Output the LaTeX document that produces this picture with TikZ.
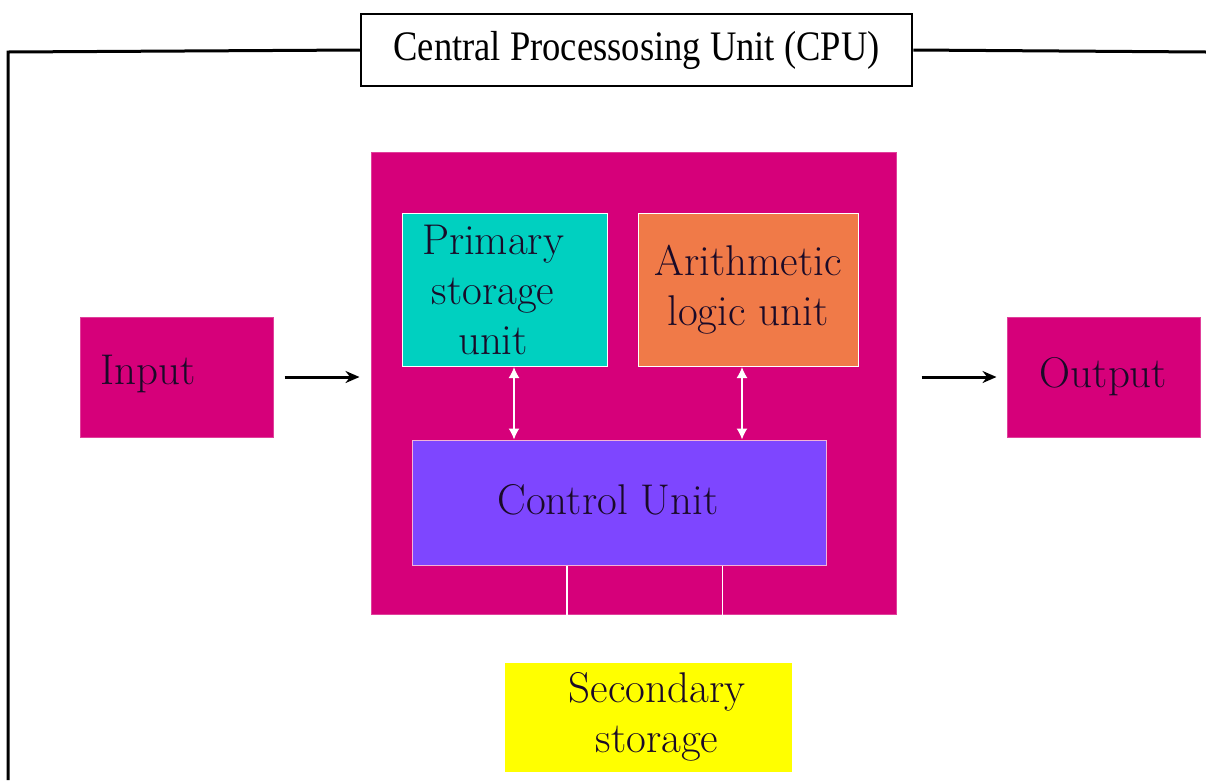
\documentclass[tikz,border=0pt]{standalone}
\usepackage{fontspec}
\newfontfamily\titlefont{Liberation Serif}
\usepackage{tikz}
\usetikzlibrary{arrows.meta, positioning}

\definecolor{cpumag}{RGB}{214,0,122}
\definecolor{psteal}{RGB}{0,208,192}
\definecolor{aluorange}{RGB}{240,122,72}
\definecolor{cupurple}{RGB}{126,70,255}
\definecolor{secyellow}{RGB}{255,255,0}
\definecolor{boxink}{RGB}{26,10,40}

\tikzset{
  unit/.style={rectangle, inner sep=0pt, text=boxink, align=center,
    font=\fontsize{43}{50}\selectfont},
  magbox/.style={unit, fill=cpumag, draw=cpumag!75!white, line width=1pt},
  inbox/.style={unit, draw=white, line width=1pt},
  flow/.style={-{Stealth[length=14pt,width=12pt]}, line width=3pt},
  link/.style={{Latex[length=11pt,width=11pt]}-{Latex[length=11pt,width=11pt]}, white, line width=1.5pt},
  frame/.style={line width=3pt},
}

\begin{document}
\begin{tikzpicture}[x=1pt,y=-1pt]
    \useasboundingbox (0,0) rectangle (1206,780);

    % frame with title
    \node[draw, line width=2.5pt, inner sep=0pt, minimum width=551pt, minimum height=72pt,
          font=\titlefont\fontsize{42}{48}\selectfont] (title) at (636.5,50)
          {\scalebox{0.87}[1]{Central Processosing Unit (CPU)}};
    \coordinate (tl) at (8,52);
    \coordinate (bl) at (8,780);
    \coordinate (tr) at (1206,52);
    \draw[frame] (title.west) -- (tl) -- (bl);
    \draw[frame] (title.east) -- (tr);

    % cpu and its units
    \node[magbox, minimum width=525pt, minimum height=462pt] (cpu) at (633.5,383) {};
    \node[inbox, fill=psteal, minimum width=205pt, minimum height=153pt] (psu) at (504.5,290) {};
    \node[unit] (psu_text) at (493,290) {Primary\\storage\\unit};
    \node[inbox, fill=aluorange, minimum width=220pt, minimum height=153pt] (alu) at (748,290) {Arithmetic\\logic unit};
    \node[inbox, fill=cupurple, draw=cpumag!30!white, minimum width=414pt, minimum height=125pt] (cu) at (619,502.5) {};
    \node[unit] (cu_text) at (608,500) {Control Unit};

    % input, output, secondary storage
    \node[magbox, minimum width=193pt, minimum height=120pt] (input) at (176.5,377) {};
    \node[unit] (input_text) at (148,374) {Input};
    \node[magbox, minimum width=193pt, minimum height=120pt] (output) at (1103.5,377) {Output};
    \node[unit, fill=secyellow, minimum width=287pt, minimum height=109pt] (sec) at (648.5,717.5) {};
    \node[unit] (sec_text) at (657,717) {Secondary\\storage};

    \draw[flow, shorten <=11pt, shorten >=11pt] (input.east) -- (input.east -| cpu.west);
    \draw[flow, shorten <=25pt, shorten >=10pt] (output.west -| cpu.east) -- (output.west);

    \draw[link] ([xshift=9.5pt]psu.south) -- ([xshift=9.5pt]psu.south |- cu.north);
    \draw[link] ([xshift=-6pt]alu.south) -- ([xshift=-6pt]alu.south |- cu.north);
    \foreach \dx in {-52,103.5}
        \draw[white, line width=1.5pt] ([xshift=\dx pt]cu.south) -- ([xshift=\dx pt]cu.south |- cpu.south);
\end{tikzpicture}
\end{document}
